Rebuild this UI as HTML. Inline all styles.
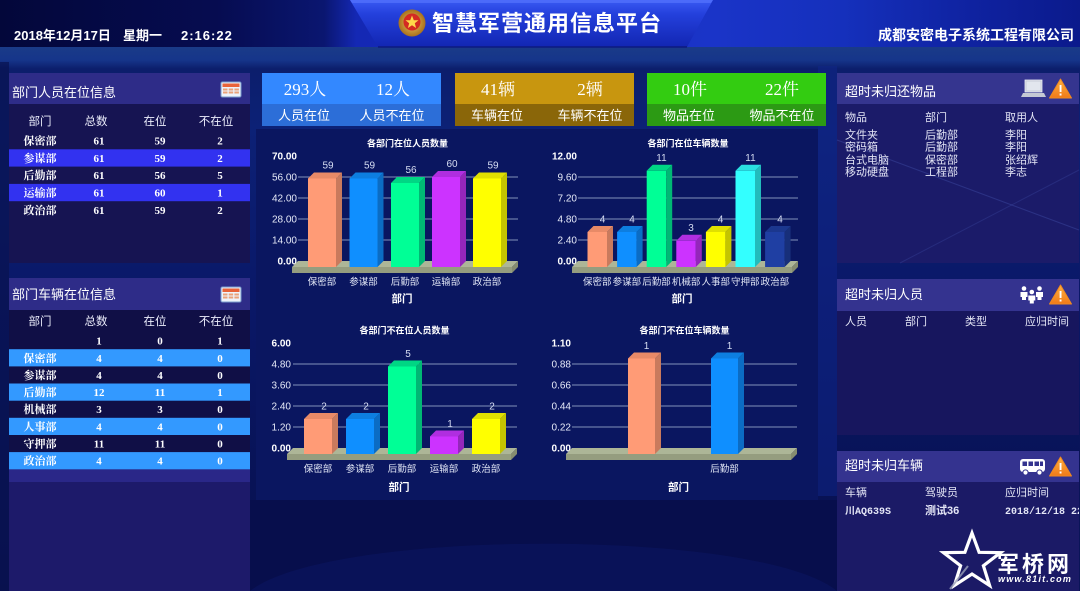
<!DOCTYPE html>
<html><head><meta charset="utf-8">
<style>
html,body{margin:0;padding:0;width:1080px;height:591px;overflow:hidden;background:#0a1868;position:relative;}
svg{display:block;position:absolute;left:0;top:0;}
text{font-family:"Liberation Sans","Noto Sans CJK SC",sans-serif;}
text.s,.s text{font-family:"Liberation Serif","Noto Serif CJK SC",serif;}
text.m{font-family:"Liberation Mono","Noto Sans CJK SC",monospace;}
.yl{font-size:10px;fill:#e6eaf8;text-anchor:end;}
.yb{font-size:10px;fill:#ffffff;text-anchor:end;font-weight:bold;}
.vl{font-size:10px;fill:#d6ddf2;text-anchor:middle;}
.xl{font-size:9.5px;fill:#e2e7f6;text-anchor:middle;}
.ct{font-size:9px;fill:#ffffff;text-anchor:middle;font-weight:bold;}
.at{font-size:10.5px;fill:#ffffff;text-anchor:middle;font-weight:bold;}
.ch{font-size:11.5px;fill:#eceefc;text-anchor:middle;}
.td{font-size:11px;fill:#ffffff;text-anchor:middle;font-weight:bold;}
.rt{font-size:11px;fill:#e4e6f6;}
.pt{font-size:13px;fill:#ffffff;}
.grid line{stroke:#8391ba;stroke-width:1;}
.floorT{fill:#adb697;}
.floorF{fill:#959d7f;}
.floorS{fill:#858c70;}
</style></head><body>
<svg width="1080" height="591" viewBox="0 0 1080 591" xmlns="http://www.w3.org/2000/svg">
<defs>
<linearGradient id="pg" x1="0" y1="0" x2="0" y2="1">
<stop offset="0" stop-color="#1a3b88"/>
<stop offset="0.024" stop-color="#16358a"/>
<stop offset="0.04" stop-color="#0c1e6c"/>
<stop offset="0.15" stop-color="#0c2176"/>
<stop offset="0.45" stop-color="#0a1868"/>
<stop offset="1" stop-color="#070f4c"/>
</linearGradient>
<linearGradient id="hdr" x1="0" y1="0" x2="1" y2="0">
<stop offset="0" stop-color="#03073a"/>
<stop offset="0.2" stop-color="#060c50"/>
<stop offset="0.3" stop-color="#0a1670"/>
<stop offset="0.33" stop-color="#1428b4"/>
<stop offset="0.66" stop-color="#1a34c8"/>
<stop offset="0.78" stop-color="#1530bc"/>
<stop offset="0.9" stop-color="#0f22a0"/>
<stop offset="1" stop-color="#0b1a8c"/>
</linearGradient>
<linearGradient id="ban" x1="0" y1="0" x2="0" y2="1">
<stop offset="0" stop-color="#3a5af4"/>
<stop offset="0.3" stop-color="#2440dc"/>
<stop offset="1" stop-color="#1226b2"/>
</linearGradient>
<radialGradient id="emb" cx="0.5" cy="0.5" r="0.5">
<stop offset="0" stop-color="#f0c860"/>
<stop offset="1" stop-color="#a8701c"/>
</radialGradient>
<linearGradient id="warn" x1="0" y1="0" x2="0" y2="1">
<stop offset="0" stop-color="#ffb040"/>
<stop offset="1" stop-color="#f07a18"/>
</linearGradient>
</defs>

<!-- page background -->
<rect x="0" y="47" width="1080" height="544" fill="url(#pg)"/>
<rect x="0" y="62" width="9" height="529" fill="#081250" opacity="0.7"/>
<rect x="818" y="66" width="19" height="430" fill="#10268a" opacity="0.5"/>
<rect x="250" y="500" width="587" height="91" fill="#070e4c"/>
<path d="M250,591 C330,528 760,528 837,591 Z" fill="#0b1660" opacity="0.6"/>

<!-- header -->
<rect x="0" y="0" width="1080" height="47" fill="url(#hdr)"/>
<polygon points="350,0 713,0 687,47 378,47" fill="url(#ban)"/>
<polygon points="350,0 713,0 711,3 352,3" fill="#5a78ff" opacity="0.6"/>
<line x1="378" y1="47" x2="687" y2="47" stroke="#0c1a80" stroke-width="1.5"/>
<circle cx="412" cy="23" r="13.5" fill="url(#emb)"/>
<circle cx="412" cy="22" r="8.5" fill="#d42a22"/>
<polygon points="412,15.5 413.8,20.2 418.5,20.3 414.8,23.3 416.1,28 412,25.2 407.9,28 409.2,23.3 405.5,20.3 410.2,20.2" fill="#ffd84a"/>
<text x="432" y="31" font-size="22" font-weight="bold" fill="#ffffff" letter-spacing="1">智慧军营通用信息平台</text>
<text x="14" y="40" font-size="13" font-weight="bold" fill="#ffffff">2018年12月17日</text>
<text x="123" y="40" font-size="13" font-weight="bold" fill="#ffffff">星期一</text>
<text x="181" y="40" font-size="13" font-weight="bold" fill="#ffffff" letter-spacing="1">2:16:22</text>
<text x="878" y="40" font-size="14" font-weight="bold" fill="#ffffff">成都安密电子系统工程有限公司</text>

<!-- LEFT PANEL 1 -->
<rect x="9" y="73" width="241" height="190" fill="#161452"/>
<rect x="9" y="73" width="241" height="31" fill="#2e2c88"/>
<text x="12" y="97" class="pt">部门人员在位信息</text>
<g transform="translate(221,82)">
<rect x="0" y="0" width="20" height="15" rx="1.5" fill="#eef3fb" stroke="#7b9ccc" stroke-width="1"/>
<rect x="1.5" y="1.5" width="17" height="3.5" fill="#e8633a"/>
<g fill="#eaa27a"><rect x="2" y="6.5" width="4.5" height="2"/><rect x="7.7" y="6.5" width="4.5" height="2"/><rect x="13.4" y="6.5" width="4.5" height="2"/>
<rect x="2" y="9.5" width="4.5" height="2"/><rect x="7.7" y="9.5" width="4.5" height="2"/><rect x="13.4" y="9.5" width="4.5" height="2"/></g>
</g>
<text x="40" y="125" class="ch">部门</text><text x="96" y="125" class="ch">总数</text><text x="155" y="125" class="ch">在位</text><text x="216" y="125" class="ch">不在位</text>
<rect x="9" y="149.3" width="241" height="17.3" fill="#3232f0"/>
<rect x="9" y="183.9" width="241" height="17.3" fill="#3232f0"/>
<g class="s">
<text x="40" y="144.6" class="td">保密部</text><text x="99" y="144.6" class="td">61</text><text x="160" y="144.6" class="td">59</text><text x="220" y="144.6" class="td">2</text>
<text x="40" y="161.9" class="td">参谋部</text><text x="99" y="161.9" class="td">61</text><text x="160" y="161.9" class="td">59</text><text x="220" y="161.9" class="td">2</text>
<text x="40" y="179.2" class="td">后勤部</text><text x="99" y="179.2" class="td">61</text><text x="160" y="179.2" class="td">56</text><text x="220" y="179.2" class="td">5</text>
<text x="40" y="196.5" class="td">运输部</text><text x="99" y="196.5" class="td">61</text><text x="160" y="196.5" class="td">60</text><text x="220" y="196.5" class="td">1</text>
<text x="40" y="213.8" class="td">政治部</text><text x="99" y="213.8" class="td">61</text><text x="160" y="213.8" class="td">59</text><text x="220" y="213.8" class="td">2</text>
</g>

<!-- LEFT PANEL 2 -->
<rect x="9" y="278" width="241" height="313" fill="#1d1a6a"/>
<rect x="9" y="310" width="241" height="159" fill="#100f46"/>
<rect x="9" y="469" width="241" height="13" fill="#2a2788"/>
<rect x="9" y="278" width="241" height="32" fill="#2e2c88"/>
<text x="12" y="299" class="pt">部门车辆在位信息</text>
<g transform="translate(221,287)">
<rect x="0" y="0" width="20" height="15" rx="1.5" fill="#eef3fb" stroke="#7b9ccc" stroke-width="1"/>
<rect x="1.5" y="1.5" width="17" height="3.5" fill="#e8633a"/>
<g fill="#eaa27a"><rect x="2" y="6.5" width="4.5" height="2"/><rect x="7.7" y="6.5" width="4.5" height="2"/><rect x="13.4" y="6.5" width="4.5" height="2"/>
<rect x="2" y="9.5" width="4.5" height="2"/><rect x="7.7" y="9.5" width="4.5" height="2"/><rect x="13.4" y="9.5" width="4.5" height="2"/></g>
</g>
<text x="40" y="325" class="ch">部门</text><text x="96" y="325" class="ch">总数</text><text x="155" y="325" class="ch">在位</text><text x="216" y="325" class="ch">不在位</text>
<g fill="#3399ff">
<rect x="9" y="349.2" width="241" height="17.2"/>
<rect x="9" y="383.5" width="241" height="17.2"/>
<rect x="9" y="417.8" width="241" height="17.2"/>
<rect x="9" y="452.1" width="241" height="17.2"/>
</g>
<g class="s">
<text x="99" y="344.6" class="td">1</text><text x="160" y="344.6" class="td">0</text><text x="220" y="344.6" class="td">1</text>
<text x="40" y="361.8" class="td">保密部</text><text x="99" y="361.8" class="td">4</text><text x="160" y="361.8" class="td">4</text><text x="220" y="361.8" class="td">0</text>
<text x="40" y="378.9" class="td">参谋部</text><text x="99" y="378.9" class="td">4</text><text x="160" y="378.9" class="td">4</text><text x="220" y="378.9" class="td">0</text>
<text x="40" y="396.1" class="td">后勤部</text><text x="99" y="396.1" class="td">12</text><text x="160" y="396.1" class="td">11</text><text x="220" y="396.1" class="td">1</text>
<text x="40" y="413.2" class="td">机械部</text><text x="99" y="413.2" class="td">3</text><text x="160" y="413.2" class="td">3</text><text x="220" y="413.2" class="td">0</text>
<text x="40" y="430.4" class="td">人事部</text><text x="99" y="430.4" class="td">4</text><text x="160" y="430.4" class="td">4</text><text x="220" y="430.4" class="td">0</text>
<text x="40" y="447.5" class="td">守押部</text><text x="99" y="447.5" class="td">11</text><text x="160" y="447.5" class="td">11</text><text x="220" y="447.5" class="td">0</text>
<text x="40" y="464.7" class="td">政治部</text><text x="99" y="464.7" class="td">4</text><text x="160" y="464.7" class="td">4</text><text x="220" y="464.7" class="td">0</text>
</g>

<!-- STAT BOXES -->
<rect x="262" y="73" width="179" height="31" fill="#3388ff"/>
<rect x="262" y="104" width="179" height="22" fill="#2c6ed8"/>
<rect x="455" y="73" width="179" height="31" fill="#c8960f"/>
<rect x="455" y="104" width="179" height="22" fill="#8a6609"/>
<rect x="647" y="73" width="179" height="31" fill="#33cc11"/>
<rect x="647" y="104" width="179" height="22" fill="#2c9a14"/>
<g class="s" font-size="17" fill="#ffffff" text-anchor="middle">
<text x="305" y="95">293人</text><text x="393" y="95">12人</text>
<text x="498" y="95">41辆</text><text x="590" y="95">2辆</text>
<text x="690" y="95">10件</text><text x="782" y="95">22件</text>
</g>
<g font-size="13" fill="#ffffff" text-anchor="middle">
<text x="304" y="120">人员在位</text><text x="392" y="120">人员不在位</text>
<text x="497" y="120">车辆在位</text><text x="590" y="120">车辆不在位</text>
<text x="689" y="120">物品在位</text><text x="782" y="120">物品不在位</text>
</g>

<!-- CHART PANEL -->
<rect x="256" y="129" width="562" height="371" fill="#0a1660"/>

<!-- CHART 1 -->
<text x="407.5" y="146.5" class="ct">各部门在位人员数量</text>
<g class="grid"><line x1="298" y1="240" x2="518" y2="240"/><line x1="298" y1="219" x2="518" y2="219"/><line x1="298" y1="198" x2="518" y2="198"/><line x1="298" y1="177" x2="518" y2="177"/></g>
<text x="297" y="159.5" class="yb">70.00</text>
<text x="297" y="180.5" class="yl">56.00</text>
<text x="297" y="201.5" class="yl">42.00</text>
<text x="297" y="222.5" class="yl">28.00</text>
<text x="297" y="243.5" class="yl">14.00</text>
<text x="297" y="264.5" class="yb">0.00</text>
<polygon class="floorT" points="298,261 518,261 512,267 292,267"/>
<polygon class="floorF" points="292,267 512,267 512,273 292,273"/>
<polygon class="floorS" points="512,267 518,261 518,267 512,273"/>
<rect x="308" y="178.5" width="28" height="88.5" fill="#ff9b76"/>
<polygon points="336,178.5 342,172.5 342,261 336,267" fill="#c97a5d"/>
<polygon points="308,178.5 314,172.5 342,172.5 336,178.5" fill="#e88a67"/>
<rect x="349.5" y="178.5" width="28" height="88.5" fill="#0f8fff"/>
<polygon points="377.5,178.5 383.5,172.5 383.5,261 377.5,267" fill="#0b6cc4"/>
<polygon points="349.5,178.5 355.5,172.5 383.5,172.5 377.5,178.5" fill="#0d7ee0"/>
<rect x="391" y="183" width="28" height="84" fill="#00ff96"/>
<polygon points="419,183 425,177 425,261 419,267" fill="#00b874"/>
<polygon points="391,183 397,177 425,177 419,183" fill="#00d684"/>
<rect x="432" y="177" width="28" height="90" fill="#cc33ff"/>
<polygon points="460,177 466,171 466,261 460,267" fill="#9426bb"/>
<polygon points="432,177 438,171 466,171 460,177" fill="#b02ee0"/>
<rect x="473" y="178.5" width="28" height="88.5" fill="#ffff00"/>
<polygon points="501,178.5 507,172.5 507,261 501,267" fill="#c4c400"/>
<polygon points="473,178.5 479,172.5 507,172.5 501,178.5" fill="#e0e000"/>
<text x="328" y="168.5" class="vl">59</text>
<text x="369.5" y="168.5" class="vl">59</text>
<text x="411" y="173" class="vl">56</text>
<text x="452" y="167" class="vl">60</text>
<text x="493" y="168.5" class="vl">59</text>
<text x="322" y="285" class="xl">保密部</text>
<text x="363.5" y="285" class="xl">参谋部</text>
<text x="405" y="285" class="xl">后勤部</text>
<text x="446" y="285" class="xl">运输部</text>
<text x="487" y="285" class="xl">政治部</text>
<text x="402" y="302" class="at">部门</text>

<!-- CHART 2 -->
<text x="688" y="146.5" class="ct">各部门在位车辆数量</text>
<g class="grid"><line x1="578" y1="240" x2="798" y2="240"/><line x1="578" y1="219" x2="798" y2="219"/><line x1="578" y1="198" x2="798" y2="198"/><line x1="578" y1="177" x2="798" y2="177"/></g>
<text x="577" y="159.5" class="yb">12.00</text>
<text x="577" y="180.5" class="yl">9.60</text>
<text x="577" y="201.5" class="yl">7.20</text>
<text x="577" y="222.5" class="yl">4.80</text>
<text x="577" y="243.5" class="yl">2.40</text>
<text x="577" y="264.5" class="yb">0.00</text>
<polygon class="floorT" points="578,261 798,261 792,267 572,267"/>
<polygon class="floorF" points="572,267 792,267 792,273 572,273"/>
<polygon class="floorS" points="792,267 798,261 798,267 792,273"/>
<rect x="587.5" y="232" width="19.5" height="35" fill="#ff9b76"/>
<polygon points="607,232 613,226 613,261 607,267" fill="#c97a5d"/>
<polygon points="587.5,232 593.5,226 613,226 607,232" fill="#e88a67"/>
<rect x="617.1" y="232" width="19.5" height="35" fill="#0f8fff"/>
<polygon points="636.6,232 642.6,226 642.6,261 636.6,267" fill="#0b6cc4"/>
<polygon points="617.1,232 623.1,226 642.6,226 636.6,232" fill="#0d7ee0"/>
<rect x="646.7" y="170.75" width="19.5" height="96.25" fill="#00ff96"/>
<polygon points="666.2,170.75 672.2,164.75 672.2,261 666.2,267" fill="#00b874"/>
<polygon points="646.7,170.75 652.7,164.75 672.2,164.75 666.2,170.75" fill="#00d684"/>
<rect x="676.3" y="240.75" width="19.5" height="26.25" fill="#cc33ff"/>
<polygon points="695.8,240.75 701.8,234.75 701.8,261 695.8,267" fill="#9426bb"/>
<polygon points="676.3,240.75 682.3,234.75 701.8,234.75 695.8,240.75" fill="#b02ee0"/>
<rect x="705.9" y="232" width="19.5" height="35" fill="#ffff00"/>
<polygon points="725.4,232 731.4,226 731.4,261 725.4,267" fill="#c4c400"/>
<polygon points="705.9,232 711.9,226 731.4,226 725.4,232" fill="#e0e000"/>
<rect x="735.5" y="170.75" width="19.5" height="96.25" fill="#33ffff"/>
<polygon points="755,170.75 761,164.75 761,261 755,267" fill="#22bcbc"/>
<polygon points="735.5,170.75 741.5,164.75 761,164.75 755,170.75" fill="#2ae0e0"/>
<rect x="765.1" y="232" width="19.5" height="35" fill="#1f3fa3"/>
<polygon points="784.6,232 790.6,226 790.6,261 784.6,267" fill="#172f7a"/>
<polygon points="765.1,232 771.1,226 790.6,226 784.6,232" fill="#1b378e"/>
<text x="602.5" y="222.5" class="vl">4</text>
<text x="632" y="222.5" class="vl">4</text>
<text x="661.5" y="161" class="vl">11</text>
<text x="691" y="231" class="vl">3</text>
<text x="720.5" y="222.5" class="vl">4</text>
<text x="750.5" y="161" class="vl">11</text>
<text x="780" y="222.5" class="vl">4</text>
<text x="597.3" y="285" class="xl">保密部</text>
<text x="626.9" y="285" class="xl">参谋部</text>
<text x="656.5" y="285" class="xl">后勤部</text>
<text x="686.1" y="285" class="xl">机械部</text>
<text x="715.7" y="285" class="xl">人事部</text>
<text x="745.3" y="285" class="xl">守押部</text>
<text x="774.9" y="285" class="xl">政治部</text>
<text x="682" y="302" class="at">部门</text>

<!-- CHART 3 -->
<text x="404.5" y="333.5" class="ct">各部门不在位人员数量</text>
<g class="grid"><line x1="293" y1="427" x2="517" y2="427"/><line x1="293" y1="406" x2="517" y2="406"/><line x1="293" y1="385" x2="517" y2="385"/><line x1="293" y1="364" x2="517" y2="364"/></g>
<text x="291" y="346.5" class="yb">6.00</text>
<text x="291" y="367.5" class="yl">4.80</text>
<text x="291" y="388.5" class="yl">3.60</text>
<text x="291" y="409.5" class="yl">2.40</text>
<text x="291" y="430.5" class="yl">1.20</text>
<text x="291" y="451.5" class="yb">0.00</text>
<polygon class="floorT" points="293,448 517,448 511,454 287,454"/>
<polygon class="floorF" points="287,454 511,454 511,460 287,460"/>
<polygon class="floorS" points="511,454 517,448 517,454 511,460"/>
<rect x="304" y="419" width="28" height="35" fill="#ff9b76"/>
<polygon points="332,419 338,413 338,448 332,454" fill="#c97a5d"/>
<polygon points="304,419 310,413 338,413 332,419" fill="#e88a67"/>
<rect x="346" y="419" width="28" height="35" fill="#0f8fff"/>
<polygon points="374,419 380,413 380,448 374,454" fill="#0b6cc4"/>
<polygon points="346,419 352,413 380,413 374,419" fill="#0d7ee0"/>
<rect x="388" y="366.5" width="28" height="87.5" fill="#00ff96"/>
<polygon points="416,366.5 422,360.5 422,448 416,454" fill="#00b874"/>
<polygon points="388,366.5 394,360.5 422,360.5 416,366.5" fill="#00d684"/>
<rect x="430" y="436.5" width="28" height="17.5" fill="#cc33ff"/>
<polygon points="458,436.5 464,430.5 464,448 458,454" fill="#9426bb"/>
<polygon points="430,436.5 436,430.5 464,430.5 458,436.5" fill="#b02ee0"/>
<rect x="472" y="419" width="28" height="35" fill="#ffff00"/>
<polygon points="500,419 506,413 506,448 500,454" fill="#c4c400"/>
<polygon points="472,419 478,413 506,413 500,419" fill="#e0e000"/>
<text x="324" y="409.5" class="vl">2</text>
<text x="366" y="409.5" class="vl">2</text>
<text x="408" y="357" class="vl">5</text>
<text x="450" y="427" class="vl">1</text>
<text x="492" y="409.5" class="vl">2</text>
<text x="318" y="472" class="xl">保密部</text>
<text x="360" y="472" class="xl">参谋部</text>
<text x="402" y="472" class="xl">后勤部</text>
<text x="444" y="472" class="xl">运输部</text>
<text x="486" y="472" class="xl">政治部</text>
<text x="399" y="490.5" class="at">部门</text>

<!-- CHART 4 -->
<text x="684.5" y="333.5" class="ct">各部门不在位车辆数量</text>
<g class="grid"><line x1="572" y1="427" x2="797" y2="427"/><line x1="572" y1="406" x2="797" y2="406"/><line x1="572" y1="385" x2="797" y2="385"/><line x1="572" y1="364" x2="797" y2="364"/></g>
<text x="571" y="346.5" class="yb">1.10</text>
<text x="571" y="367.5" class="yl">0.88</text>
<text x="571" y="388.5" class="yl">0.66</text>
<text x="571" y="409.5" class="yl">0.44</text>
<text x="571" y="430.5" class="yl">0.22</text>
<text x="571" y="451.5" class="yb">0.00</text>
<polygon class="floorT" points="572,448 797,448 791,454 566,454"/>
<polygon class="floorF" points="566,454 791,454 791,460 566,460"/>
<polygon class="floorS" points="791,454 797,448 797,454 791,460"/>
<rect x="628" y="358.5" width="27" height="95.5" fill="#ff9b76"/>
<polygon points="655,358.5 661,352.5 661,448 655,454" fill="#c97a5d"/>
<polygon points="628,358.5 634,352.5 661,352.5 655,358.5" fill="#e88a67"/>
<rect x="711" y="358.5" width="27" height="95.5" fill="#0f8fff"/>
<polygon points="738,358.5 744,352.5 744,448 738,454" fill="#0b6cc4"/>
<polygon points="711,358.5 717,352.5 744,352.5 738,358.5" fill="#0d7ee0"/>
<text x="646.5" y="349" class="vl">1</text>
<text x="729.5" y="349" class="vl">1</text>
<text x="724.5" y="472" class="xl">后勤部</text>
<text x="678.5" y="490.5" class="at">部门</text>

<!-- RIGHT PANEL 1 -->
<rect x="837" y="73" width="242" height="190" fill="#1b1b69"/>
<line x1="837" y1="140" x2="1079" y2="230" stroke="#4a5cb8" stroke-width="1" opacity="0.35"/>
<line x1="900" y1="263" x2="1079" y2="170" stroke="#4a5cb8" stroke-width="1" opacity="0.25"/>
<rect x="837" y="73" width="242" height="31" fill="#35358f"/>
<text x="845" y="96" class="pt">超时未归还物品</text>
<rect x="1025" y="80" width="17" height="12" fill="#c8ccd8" stroke="#eef0f6" stroke-width="0.8"/>
<rect x="1026.5" y="81.5" width="14" height="9" fill="#e2e6ee"/>
<polygon points="1023,93 1044,93 1046,97 1021,97" fill="#c4c8d4"/>
<polygon points="1060.5,79 1071.5,98 1049.5,98" fill="url(#warn)" stroke="#f08a20" stroke-width="1" stroke-linejoin="round"/>
<rect x="1059.6" y="85" width="1.9" height="7" fill="#ffffff"/>
<rect x="1059.6" y="93.5" width="1.9" height="2" fill="#ffffff"/>
<text x="845" y="121" class="rt">物品</text><text x="925" y="121" class="rt">部门</text><text x="1005" y="121" class="rt">取用人</text>
<text x="845" y="138.3" class="rt">文件夹</text><text x="925" y="138.3" class="rt">后勤部</text><text x="1005" y="138.3" class="rt">李阳</text>
<text x="845" y="150.7" class="rt">密码箱</text><text x="925" y="150.7" class="rt">后勤部</text><text x="1005" y="150.7" class="rt">李阳</text>
<text x="845" y="163.3" class="rt">台式电脑</text><text x="925" y="163.3" class="rt">保密部</text><text x="1005" y="163.3" class="rt">张绍辉</text>
<text x="845" y="175.7" class="rt">移动硬盘</text><text x="925" y="175.7" class="rt">工程部</text><text x="1005" y="175.7" class="rt">李志</text>

<!-- RIGHT PANEL 2 -->
<rect x="837" y="279" width="242" height="156" fill="#17165e"/>
<rect x="837" y="279" width="242" height="32" fill="#34338f"/>
<text x="845" y="299" class="pt">超时未归人员</text>
<g fill="#ffffff">
<circle cx="1024" cy="288.5" r="2.3"/><path d="M1020.5,292 h7 v5 h-1.5 v3 h-4 v-3 h-1.5z"/>
<circle cx="1039.5" cy="288.5" r="2.3"/><path d="M1036,292 h7 v5 h-1.5 v3 h-4 v-3 h-1.5z"/>
<circle cx="1031.8" cy="292" r="2.3"/><path d="M1028.3,295.5 h7 v5 h-1.5 v3 h-4 v-3 h-1.5z"/>
</g>
<polygon points="1060.5,285 1071.5,304 1049.5,304" fill="url(#warn)" stroke="#f08a20" stroke-width="1" stroke-linejoin="round"/>
<rect x="1059.6" y="291" width="1.9" height="7" fill="#ffffff"/>
<rect x="1059.6" y="299.5" width="1.9" height="2" fill="#ffffff"/>
<text x="845" y="325" class="rt">人员</text><text x="905" y="325" class="rt">部门</text><text x="965" y="325" class="rt">类型</text><text x="1025" y="325" class="rt">应归时间</text>

<!-- RIGHT PANEL 3 -->
<rect x="837" y="451" width="242" height="140" fill="#1b1a66"/>
<rect x="837" y="451" width="242" height="31" fill="#34338f"/>
<text x="845" y="470" class="pt">超时未归车辆</text>
<rect x="1020" y="459" width="25" height="13" rx="3" fill="#ffffff"/>
<g fill="#34338f"><rect x="1022.5" y="461.5" width="4.5" height="4.5"/><rect x="1028.5" y="461.5" width="4.5" height="4.5"/><rect x="1034.5" y="461.5" width="4.5" height="4.5"/><rect x="1040" y="461.5" width="3" height="4.5"/></g>
<circle cx="1025.5" cy="472.5" r="2.6" fill="#ffffff" stroke="#34338f" stroke-width="1"/>
<circle cx="1039.5" cy="472.5" r="2.6" fill="#ffffff" stroke="#34338f" stroke-width="1"/>
<polygon points="1060.5,457 1071.5,476 1049.5,476" fill="url(#warn)" stroke="#f08a20" stroke-width="1" stroke-linejoin="round"/>
<rect x="1059.6" y="463" width="1.9" height="7" fill="#ffffff"/>
<rect x="1059.6" y="471.5" width="1.9" height="2" fill="#ffffff"/>
<text x="845" y="496" class="rt">车辆</text><text x="925" y="496" class="rt">驾驶员</text><text x="1005" y="496" class="rt">应归时间</text>
<text x="845" y="514" class="m" font-size="10" font-weight="bold" fill="#e4e6f6">川AQ639S</text>
<text x="925" y="514" class="rt" font-weight="bold">测试36</text>
<text x="1005" y="514" class="m" font-size="10" font-weight="bold" fill="#e4e6f6">2018/12/18 22</text>
<rect x="1079" y="451" width="1" height="140" fill="#0a1458"/>

<!-- watermark -->
<polygon points="972,533 979.1,552.3 1000.5,552.7 983.4,565.7 989.6,585.5 972,574 954.4,585.5 960.6,565.7 943.5,552.7 964.9,552.3" fill="none" stroke="#ffffff" stroke-width="3.2" stroke-linejoin="miter"/>
<line x1="950" y1="589" x2="968" y2="566" stroke="#9aa0b8" stroke-width="2" opacity="0.8"/>
<text x="997" y="572" font-size="22" font-weight="bold" fill="#ffffff" letter-spacing="3">军桥网</text>
<text x="998" y="582" font-size="9" font-weight="bold" font-style="italic" fill="#ffffff" letter-spacing="1.2">www.81it.com</text>
</svg>
</body></html>
